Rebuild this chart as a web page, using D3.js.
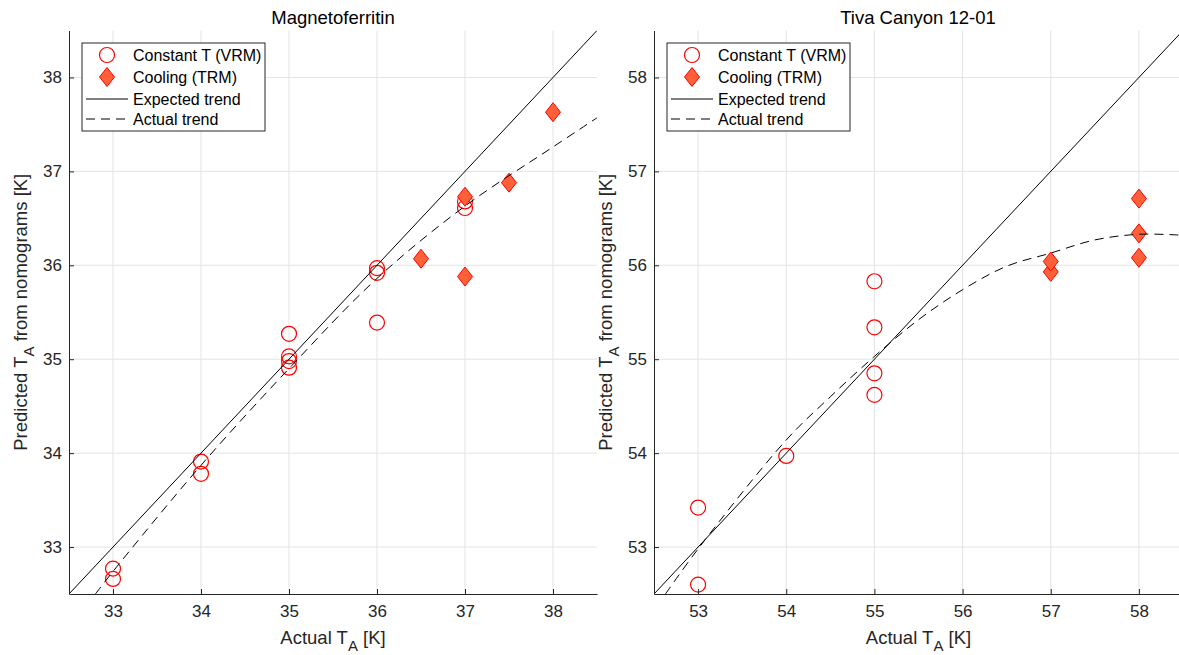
<!DOCTYPE html>
<html>
<head>
<meta charset="utf-8">
<script src="https://cdnjs.cloudflare.com/ajax/libs/d3/7.8.5/d3.min.js"></script>
<style>
  body { margin: 0; background: #fff; }
  text { font-family: "Liberation Sans", Arial, Helvetica, sans-serif; }
</style>
</head>
<body>
<svg id="chart"></svg>
<script>
// SIZE
var width = 1179;
var height = 655;
var plotTop = 30.5;
var plotBottom = 594;

// DATA - Magnetoferritin
var magTicks = [33, 34, 35, 36, 37, 38];
var magVrmX = [33, 33, 34, 34, 35, 35, 35, 35, 36, 36, 36, 37, 37];
var magVrmY = [32.66, 32.77, 33.78, 33.91, 34.91, 34.98, 35.03, 35.27, 35.39, 35.92, 35.97, 36.61, 36.68];
var magTrmX = [36.5, 37, 37, 37.5, 38];
var magTrmY = [36.07, 36.73, 35.88, 36.88, 37.63];
var magTrendX = [32.8, 33, 34, 35, 36, 37, 38, 38.5];
var magTrendY = [32.5, 32.74, 33.87, 34.9, 35.86, 36.63, 37.26, 37.57];

// DATA - Tiva Canyon 12-01
var tivaTicks = [53, 54, 55, 56, 57, 58];
var tivaVrmX = [53, 53, 54, 55, 55, 55, 55];
var tivaVrmY = [52.6, 53.42, 53.97, 54.62, 54.85, 55.34, 55.83];
var tivaTrmX = [57, 57, 58, 58, 58];
var tivaTrmY = [55.93, 56.04, 56.08, 56.34, 56.71];
var tivaTrendX = [52.63, 53, 54, 54.5, 55, 55.5, 56, 56.5, 57, 57.5, 58, 58.5];
var tivaTrendY = [52.5, 52.98, 54.14, 54.6, 55.03, 55.42, 55.74, 55.99, 56.13, 56.27, 56.33, 56.32];

// LEGEND
var legendLabels = ["Constant T (VRM)", "Cooling (TRM)", "Expected trend", "Actual trend"];

var svg = d3.select("#chart")
  .attr("width", width)
  .attr("height", height)
  ;

var axisColor = "#262626";
var gridColor = "#e3e3e3";
var circleColor = "#ff0000";
var diamondFill = "#ff6038";

var panels = [
  {title: "Magnetoferritin", left: 69, right: 597, domain: [32.5, 38.5], ticks: magTicks,
   vrmX: magVrmX, vrmY: magVrmY, trmX: magTrmX, trmY: magTrmY, trendX: magTrendX, trendY: magTrendY},
  {title: "Tiva Canyon 12-01", left: 654, right: 1183, domain: [52.5, 58.5], ticks: tivaTicks,
   vrmX: tivaVrmX, vrmY: tivaVrmY, trmX: tivaTrmX, trmY: tivaTrmY, trendX: tivaTrendX, trendY: tivaTrendY}
];

// diamond path, a bit taller than wide like matlab's marker
function diamond(cx, cy) {
  return "M" + cx + "," + (cy - 9.5) + "L" + (cx + 7.5) + "," + cy +
    "L" + cx + "," + (cy + 9.5) + "L" + (cx - 7.5) + "," + cy + "Z";
}

panels.forEach(function(p, idx) {
  var xScale = d3.scaleLinear().domain(p.domain).range([p.left, p.right]);
  var yScale = d3.scaleLinear().domain(p.domain).range([plotBottom, plotTop]);

  var g = svg.append("g").attr("class", "panel" + idx);

  // clip so lines stay inside axes
  var clipId = "clip" + idx;
  g.append("clipPath")
    .attr("id", clipId)
    .append("rect")
    .attr("x", p.left)
    .attr("y", plotTop)
    .attr("width", p.right - p.left)
    .attr("height", plotBottom - plotTop)
    ;

  // grid
  g.append("g")
    .selectAll("line")
    .data(p.ticks)
    .join("line")
    .attr("x1", (d) => xScale(d))
    .attr("x2", (d) => xScale(d))
    .attr("y1", plotTop)
    .attr("y2", plotBottom)
    .attr("stroke", gridColor)
    .attr("stroke-width", 1)
    ;
  g.append("g")
    .selectAll("line")
    .data(p.ticks)
    .join("line")
    .attr("x1", p.left)
    .attr("x2", p.right)
    .attr("y1", (d) => yScale(d))
    .attr("y2", (d) => yScale(d))
    .attr("stroke", gridColor)
    .attr("stroke-width", 1)
    ;

  var plot = g.append("g").attr("clip-path", "url(#" + clipId + ")");

  // circles (VRM)
  plot.append("g")
    .selectAll("circle")
    .data(p.vrmX)
    .join("circle")
    .attr("cx", (d) => xScale(d))
    .attr("cy", (d, i) => yScale(p.vrmY[i]))
    .attr("r", 7.5)
    .attr("fill", "none")
    .attr("stroke", circleColor)
    .attr("stroke-width", 1.2)
    ;

  // diamonds (TRM)
  plot.append("g")
    .selectAll("path")
    .data(p.trmX)
    .join("path")
    .attr("d", (d, i) => diamond(xScale(d), yScale(p.trmY[i])))
    .attr("fill", diamondFill)
    .attr("stroke", circleColor)
    .attr("stroke-width", 1)
    ;

  // expected trend y = x
  plot.append("path")
    .datum(p.domain)
    .attr("d", d3.line().x((d) => xScale(d)).y((d) => yScale(d)))
    .attr("fill", "none")
    .attr("stroke", "#000")
    .attr("stroke-width", 1)
    ;

  // actual trend
  var trendLine = d3.line()
    .x((d) => xScale(d))
    .y((d, i) => yScale(p.trendY[i]))
    .curve(d3.curveCatmullRom)
    ;
  plot.append("path")
    .datum(p.trendX)
    .attr("d", trendLine)
    .attr("fill", "none")
    .attr("stroke", "#000")
    .attr("stroke-width", 1)
    .attr("stroke-dasharray", "9,6")
    ;

  // axes
  var xAxis = d3.axisBottom(xScale)
    .tickValues(p.ticks)
    .tickFormat(d3.format("d"))
    .tickSizeInner(-5)
    .tickSizeOuter(0)
    .tickPadding(11)
    ;
  var yAxis = d3.axisLeft(yScale)
    .tickValues(p.ticks)
    .tickFormat(d3.format("d"))
    .tickSizeInner(-5)
    .tickSizeOuter(0)
    .tickPadding(7)
    ;

  var xg = g.append("g")
    .attr("transform", "translate(0," + plotBottom + ")")
    .call(xAxis)
    ;
  var yg = g.append("g")
    .attr("transform", "translate(" + p.left + ",0)")
    .call(yAxis)
    ;
  [xg, yg].forEach(function(a) {
    a.selectAll("path, line").attr("stroke", axisColor);
    a.selectAll("text")
      .attr("fill", axisColor)
      .style("font-size", "17px")
      .style("font-family", "'Liberation Sans', Arial, sans-serif")
      ;
  });

  // title
  g.append("text")
    .attr("x", (p.left + Math.min(p.right, p.left + 528)) / 2)
    .attr("y", 24)
    .attr("text-anchor", "middle")
    .attr("fill", "#000")
    .style("font-size", "18.5px")
    .text(p.title)
    ;

  // x label
  var xl = g.append("text")
    .attr("x", (p.left + p.right) / 2)
    .attr("y", 644)
    .attr("text-anchor", "middle")
    .attr("fill", axisColor)
    .style("font-size", "18.5px")
    ;
  xl.append("tspan").text("Actual T");
  xl.append("tspan").attr("dy", 7).style("font-size", "15px").text("A");
  xl.append("tspan").attr("dy", -7).text(" [K]");

  // y label
  var yl = g.append("text")
    .attr("transform", "translate(" + (p.left - 42) + "," + ((plotTop + plotBottom) / 2) + ") rotate(-90)")
    .attr("text-anchor", "middle")
    .attr("fill", axisColor)
    .style("font-size", "18.5px")
    ;
  yl.append("tspan").text("Predicted T");
  yl.append("tspan").attr("dy", 7).style("font-size", "15px").text("A");
  yl.append("tspan").attr("dy", -7).text(" from nomograms [K]");

  // legend
  var lx = p.left + 13;
  var ly = 43;
  var lg = g.append("g").attr("transform", "translate(" + lx + "," + ly + ")");
  lg.append("rect")
    .attr("width", 183)
    .attr("height", 88)
    .attr("fill", "#fff")
    .attr("stroke", axisColor)
    .attr("stroke-width", 1)
    ;
  var rowY = [12, 34, 56, 76];
  lg.append("circle")
    .attr("cx", 25)
    .attr("cy", rowY[0])
    .attr("r", 7.5)
    .attr("fill", "none")
    .attr("stroke", circleColor)
    .attr("stroke-width", 1.2)
    ;
  lg.append("path")
    .attr("d", diamond(25, rowY[1]))
    .attr("fill", diamondFill)
    .attr("stroke", circleColor)
    ;
  lg.append("line")
    .attr("x1", 4).attr("x2", 46)
    .attr("y1", rowY[2]).attr("y2", rowY[2])
    .attr("stroke", "#000")
    ;
  lg.append("line")
    .attr("x1", 4).attr("x2", 46)
    .attr("y1", rowY[3]).attr("y2", rowY[3])
    .attr("stroke", "#000")
    .attr("stroke-dasharray", "9,6")
    ;
  lg.selectAll("text")
    .data(legendLabels)
    .join("text")
    .attr("x", 51)
    .attr("y", (d, i) => rowY[i])
    .attr("dy", "0.35em")
    .attr("fill", "#000")
    .style("font-size", "16px")
    .text((d) => d)
    ;
});
</script>
</body>
</html>
